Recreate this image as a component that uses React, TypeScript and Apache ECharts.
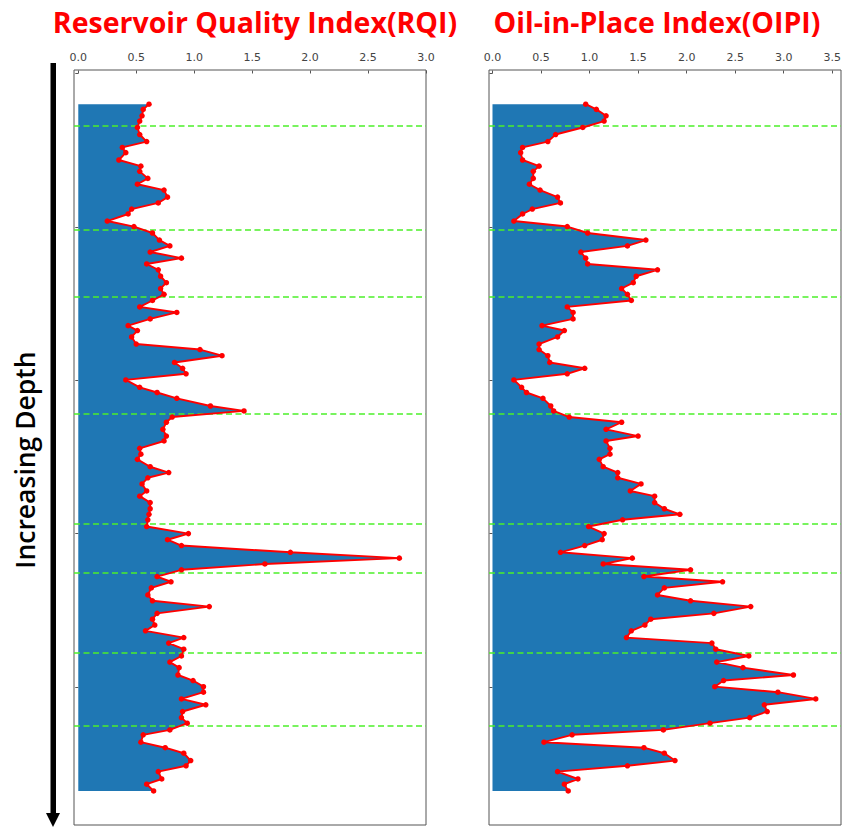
import React, { useEffect, useRef } from "react";
import * as echarts from "echarts";

// Sample depths (arbitrary depth units, increasing downward)
const depths = [
  10.0, 11.7, 13.8, 15.5, 17.6, 19.9, 22.2, 24.1, 25.8, 28.2,
  30.2, 31.9, 34.2, 36.1, 38.0, 40.3, 42.2, 44.2, 45.8, 48.1,
  49.9, 52.0, 54.3, 56.2, 58.2, 60.2, 62.1, 64.0, 66.1, 68.2,
  70.1, 72.0, 74.0, 76.1, 77.9, 80.0, 82.2, 83.8, 85.9, 88.2,
  90.0, 92.0, 94.2, 96.1, 97.9, 99.9, 102.3, 104.0, 105.9, 108.4,
  110.0, 112.0, 113.7, 116.0, 118.2, 119.8, 122.2, 124.1, 125.8, 128.2,
  130.1, 131.8, 133.8, 136.1, 137.8, 139.9, 141.9, 143.7, 145.5, 147.7,
  150.0, 152.0, 153.9, 156.1, 158.0, 159.9, 161.8, 164.0, 165.7, 167.7,
  170.0, 171.9, 173.8, 176.0, 177.9, 179.8, 181.7, 183.9, 185.7, 187.7,
  189.9, 191.9, 193.7, 196.1, 197.9, 199.9, 201.7, 203.9, 205.8, 208.0,
  210.0, 211.8, 214.0, 215.6, 218.0, 219.8, 221.6, 224.0, 225.7, 227.6,
  230.0, 231.7, 233.9,
];

const rqi = [
  0.61, 0.56, 0.55, 0.53, 0.51, 0.53, 0.59, 0.38, 0.41, 0.35,
  0.54, 0.53, 0.60, 0.51, 0.74, 0.77, 0.69, 0.46, 0.43, 0.25,
  0.48, 0.64, 0.70, 0.79, 0.62, 0.89, 0.59, 0.69, 0.71, 0.76,
  0.71, 0.74, 0.64, 0.53, 0.85, 0.62, 0.43, 0.51, 0.46, 0.50,
  1.05, 1.24, 0.83, 0.90, 0.93, 0.41, 0.53, 0.68, 0.85, 1.14,
  1.43, 0.81, 0.76, 0.73, 0.76, 0.74, 0.53, 0.54, 0.51, 0.62,
  0.78, 0.60, 0.55, 0.59, 0.53, 0.62, 0.62, 0.61, 0.60, 0.59,
  0.95, 0.77, 0.89, 1.83, 2.77, 1.61, 0.89, 0.68, 0.80, 0.63,
  0.60, 0.64, 1.13, 0.68, 0.64, 0.66, 0.58, 0.91, 0.78, 0.91,
  0.89, 0.79, 0.87, 0.86, 0.99, 1.08, 1.08, 0.89, 1.10, 0.90,
  0.89, 0.94, 0.79, 0.56, 0.54, 0.75, 0.91, 0.97, 0.93, 0.69,
  0.72, 0.59, 0.65,
];

const oipi = [
  0.96, 1.07, 1.17, 1.15, 0.93, 0.65, 0.57, 0.31, 0.29, 0.31,
  0.48, 0.42, 0.42, 0.38, 0.49, 0.67, 0.70, 0.41, 0.31, 0.22,
  0.77, 0.98, 1.58, 1.39, 0.91, 0.96, 0.98, 1.70, 1.48, 1.45,
  1.33, 1.39, 1.43, 0.77, 0.83, 0.83, 0.51, 0.74, 0.67, 0.48,
  0.48, 0.57, 0.59, 0.95, 0.77, 0.22, 0.30, 0.35, 0.52, 0.60,
  0.63, 0.79, 1.33, 1.17, 1.50, 1.17, 1.21, 1.21, 1.10, 1.14,
  1.29, 1.29, 1.53, 1.42, 1.67, 1.67, 1.77, 1.93, 1.34, 0.99,
  1.15, 1.13, 0.95, 0.70, 1.44, 1.14, 2.04, 1.56, 2.37, 1.77,
  1.70, 2.04, 2.66, 2.28, 1.63, 1.57, 1.43, 1.38, 2.26, 2.30,
  2.64, 2.31, 2.58, 3.10, 2.38, 2.29, 2.94, 3.33, 2.80, 2.83,
  2.65, 2.24, 1.76, 0.82, 0.53, 1.56, 1.77, 1.88, 1.39, 0.67,
  0.88, 0.74, 0.78,
];

// Zone boundaries (green dashed lines)
const boundaryDepths = [17.1, 51.0, 72.9, 111.0, 146.8, 162.7, 188.7, 212.7];

const rqiTicks = [0, 0.5, 1.0, 1.5, 2.0, 2.5, 3.0];
const oipiTicks = [0, 0.5, 1.0, 1.5, 2.0, 2.5, 3.0, 3.5];
const depthTicks = [0, 50, 100, 150, 200];

const titles = ["Reservoir Quality Index(RQI)", "Oil-in-Place Index(OIPI)"];
const depthLabel = "Increasing Depth";

const FILL = "#1f77b4";
const RED = "#ff0000";
const GREEN = "#4cf02a";
const FRAME = "#555555";

function fillSeries(values: number[], idx: number) {
  return {
    type: "custom",
    xAxisIndex: idx,
    yAxisIndex: idx,
    data: [[0, depths[0]]],
    silent: true,
    z: 1,
    renderItem: (params: any, api: any) => {
      if (params.dataIndex !== 0) return null;
      const pts: number[][] = depths.map((d, i) => api.coord([values[i], d]));
      pts.push(api.coord([0, depths[depths.length - 1]]));
      pts.push(api.coord([0, depths[0]]));
      return {
        type: "polygon",
        shape: { points: pts },
        style: { fill: FILL, stroke: "none" },
      };
    },
  };
}

function lineSeries(values: number[], idx: number) {
  return {
    type: "line",
    xAxisIndex: idx,
    yAxisIndex: idx,
    data: depths.map((d, i) => [values[i], d]),
    symbol: "circle",
    symbolSize: 5.5,
    showSymbol: true,
    itemStyle: { color: RED },
    lineStyle: { color: RED, width: 1.9 },
    z: 3,
    markLine: {
      silent: true,
      symbol: "none",
      label: { show: false },
      lineStyle: { color: GREEN, type: [6, 3.5], width: 1.7 },
      data: boundaryDepths.map((d) => ({ yAxis: d })),
      z: 2,
    },
  };
}

function xAxis(idx: number, min: number, max: number, ticks: number[]) {
  return {
    type: "value",
    gridIndex: idx,
    position: "top",
    min,
    max,
    axisLine: { show: false },
    splitLine: { show: false },
    axisTick: {
      show: true,
      length: 3,
      lineStyle: { color: FRAME },
      customValues: ticks,
    },
    axisLabel: {
      show: true,
      margin: 7,
      color: "#444",
      fontSize: 11,
      fontFamily: "DejaVu Sans",
      customValues: ticks,
      formatter: (v: number) => v.toFixed(1),
    },
  };
}

function yAxis(idx: number) {
  return {
    type: "value",
    gridIndex: idx,
    inverse: true,
    min: -1.14,
    max: 245,
    axisLine: { show: false },
    splitLine: { show: false },
    axisTick: {
      show: true,
      length: 3,
      lineStyle: { color: FRAME },
      customValues: depthTicks,
    },
    axisLabel: { show: false },
  };
}

export default function App() {
  const ref = useRef<HTMLDivElement>(null);

  useEffect(() => {
    if (!ref.current) return;
    const chart = echarts.init(ref.current, undefined, { renderer: "svg" });
    chart.setOption({
      animation: false,
      backgroundColor: "#ffffff",
      grid: [
        { left: 74, top: 70, width: 352, height: 755, show: true, borderColor: FRAME, borderWidth: 1, backgroundColor: "transparent" },
        { left: 489, top: 70, width: 352, height: 755, show: true, borderColor: FRAME, borderWidth: 1, backgroundColor: "transparent" },
      ],
      xAxis: [xAxis(0, -0.037, 3.0, rqiTicks), xAxis(1, -0.036, 3.59, oipiTicks)],
      yAxis: [yAxis(0), yAxis(1)],
      series: [fillSeries(rqi, 0), fillSeries(oipi, 1), lineSeries(rqi, 0), lineSeries(oipi, 1)],
      graphic: [
        {
          type: "text",
          x: 255,
          y: 22,
          style: {
            text: titles[0],
            fill: RED,
            font: "bold 28.5px 'Open Sans'",
            textAlign: "center",
            textVerticalAlign: "middle",
          },
        },
        {
          type: "text",
          x: 657,
          y: 22,
          style: {
            text: titles[1],
            fill: RED,
            font: "bold 28.5px 'Open Sans'",
            textAlign: "center",
            textVerticalAlign: "middle",
          },
        },
        {
          type: "rect",
          shape: { x: 50.5, y: 63, width: 5.5, height: 752 },
          style: { fill: "#000" },
        },
        {
          type: "polygon",
          shape: { points: [[46, 813], [60, 813], [53, 827]] },
          style: { fill: "#000" },
        },
        {
          type: "text",
          x: 25,
          y: 460,
          rotation: Math.PI / 2,
          style: {
            text: depthLabel,
            fill: "#000",
            font: "600 26.5px 'Open Sans'",
            textAlign: "center",
            textVerticalAlign: "middle",
          },
        },
      ],
    });
    return () => chart.dispose();
  }, []);

  return (
    <div
      ref={ref}
      style={{ position: "fixed", left: 0, top: 0, width: 852, height: 827 }}
    />
  );
}
